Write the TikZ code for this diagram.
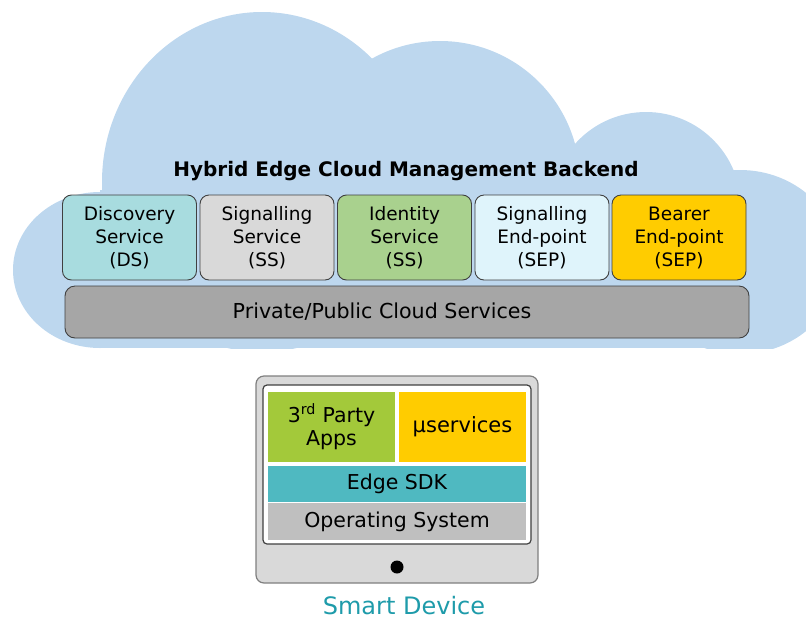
\documentclass[tikz,border=0pt]{standalone}
\usepackage{fontspec}
\setmainfont{DejaVu Sans}
\definecolor{cloudblue}{HTML}{BDD7EE}
\definecolor{boxline}{HTML}{404040}
\definecolor{dsfill}{HTML}{A8DCDF}
\definecolor{ssfill}{HTML}{D9D9D9}
\definecolor{idfill}{HTML}{A9D18E}
\definecolor{sepfill}{HTML}{DFF4FB}
\definecolor{bearerfill}{HTML}{FFCC00}
\definecolor{barfill}{HTML}{A6A6A6}
\definecolor{devgray}{HTML}{D9D9D9}
\definecolor{devframe}{HTML}{7F7F7F}
\definecolor{appsfill}{HTML}{A3C93A}
\definecolor{sdkfill}{HTML}{4FB9C1}
\definecolor{osfill}{HTML}{BFBFBF}
\definecolor{devlabel}{HTML}{1E9BAA}
\begin{document}
\begin{tikzpicture}[x=1pt,y=-1pt,
  svcbox/.style={draw=boxline, line width=0.9pt, rounded corners=9pt,
    minimum width=134pt, minimum height=85pt, inner sep=0pt, align=center,
    font=\fontsize{18.5}{23}\selectfont, text=black},
  layerbox/.style={inner sep=0pt, align=center, text=black,
    font=\fontsize{20.5}{23.5}\selectfont}]

\useasboundingbox (0,0) rectangle (806,622);

% cloud outline built from overlapping lobes, cut flat at the bottom
\begin{scope}
  \clip (0,0) rectangle (806,348);
  \fill[cloudblue] (262,182) ellipse[x radius=160pt, y radius=170pt];
  \fill[cloudblue] (440,181) circle[radius=140pt];
  \fill[cloudblue] (646,207) circle[radius=95pt];
  \fill[cloudblue] (740,262) ellipse[x radius=100pt, y radius=92pt];
  \fill[cloudblue] (100,270) ellipse[x radius=87pt, y radius=78pt];
  \fill[cloudblue] (100,190) rectangle (745,348);
\end{scope}

\node[anchor=base, font=\fontsize{20}{24}\selectfont\bfseries] (title) at (406,176)
  {Hybrid Edge Cloud Management Backend};

% backend services
\node[svcbox, fill=dsfill]     (ds)     at (129.5,237.5) {Discovery\\Service\\(DS)};
\node[svcbox, fill=ssfill]     (ss)     at (267,237.5)   {Signalling\\Service\\(SS)};
\node[svcbox, fill=idfill]     (ids)    at (404.5,237.5) {Identity\\Service\\(SS)};
\node[svcbox, fill=sepfill]    (sep)    at (542,237.5)   {Signalling\\End-point\\(SEP)};
\node[svcbox, fill=bearerfill] (bearer) at (679,237.5)   {Bearer\\End-point\\(SEP)};

\node[draw=boxline, line width=0.9pt, rounded corners=10pt, fill=barfill,
  minimum width=684pt, minimum height=52pt, inner sep=0pt] (cloudsvc) at (407,312) {};
\node[inner sep=0pt, font=\fontsize{20.6}{24}\selectfont] (cloudsvctext) at (382,312)
  {Private/Public Cloud Services};

% smart device
\node[draw=devframe, fill=devgray, line width=1.2pt, rounded corners=8pt,
  minimum width=282pt, minimum height=207pt, inner sep=0pt] (device) at (397,479.5) {};
\node[draw=boxline, fill=white, line width=1.2pt, rounded corners=4pt,
  minimum width=268pt, minimum height=159pt, inner sep=0pt] (screen) at (397,464.5) {};
\node[layerbox, fill=appsfill, minimum width=127pt, minimum height=70pt] (apps)
  at (331.5,427) {3\textsuperscript{rd} Party\\Apps};
\node[layerbox, fill=bearerfill, minimum width=127pt, minimum height=70pt,
  font=\fontsize{21}{24}\selectfont] (micro) at (462.5,427) {µservices};
\node[layerbox, fill=sdkfill, minimum width=258pt, minimum height=36pt] (sdk)
  at (397,484) {Edge SDK};
\node[layerbox, fill=osfill, minimum width=258pt, minimum height=37pt] (os)
  at (397,521.5) {Operating System};
\node[circle, fill=black, minimum size=13pt, inner sep=0pt] (button) at (397,567) {};

\node[anchor=base, inner sep=0pt, text=devlabel, font=\fontsize{24}{28}\selectfont]
  (devname) at (404,614) {Smart Device};
\end{tikzpicture}
\end{document}
